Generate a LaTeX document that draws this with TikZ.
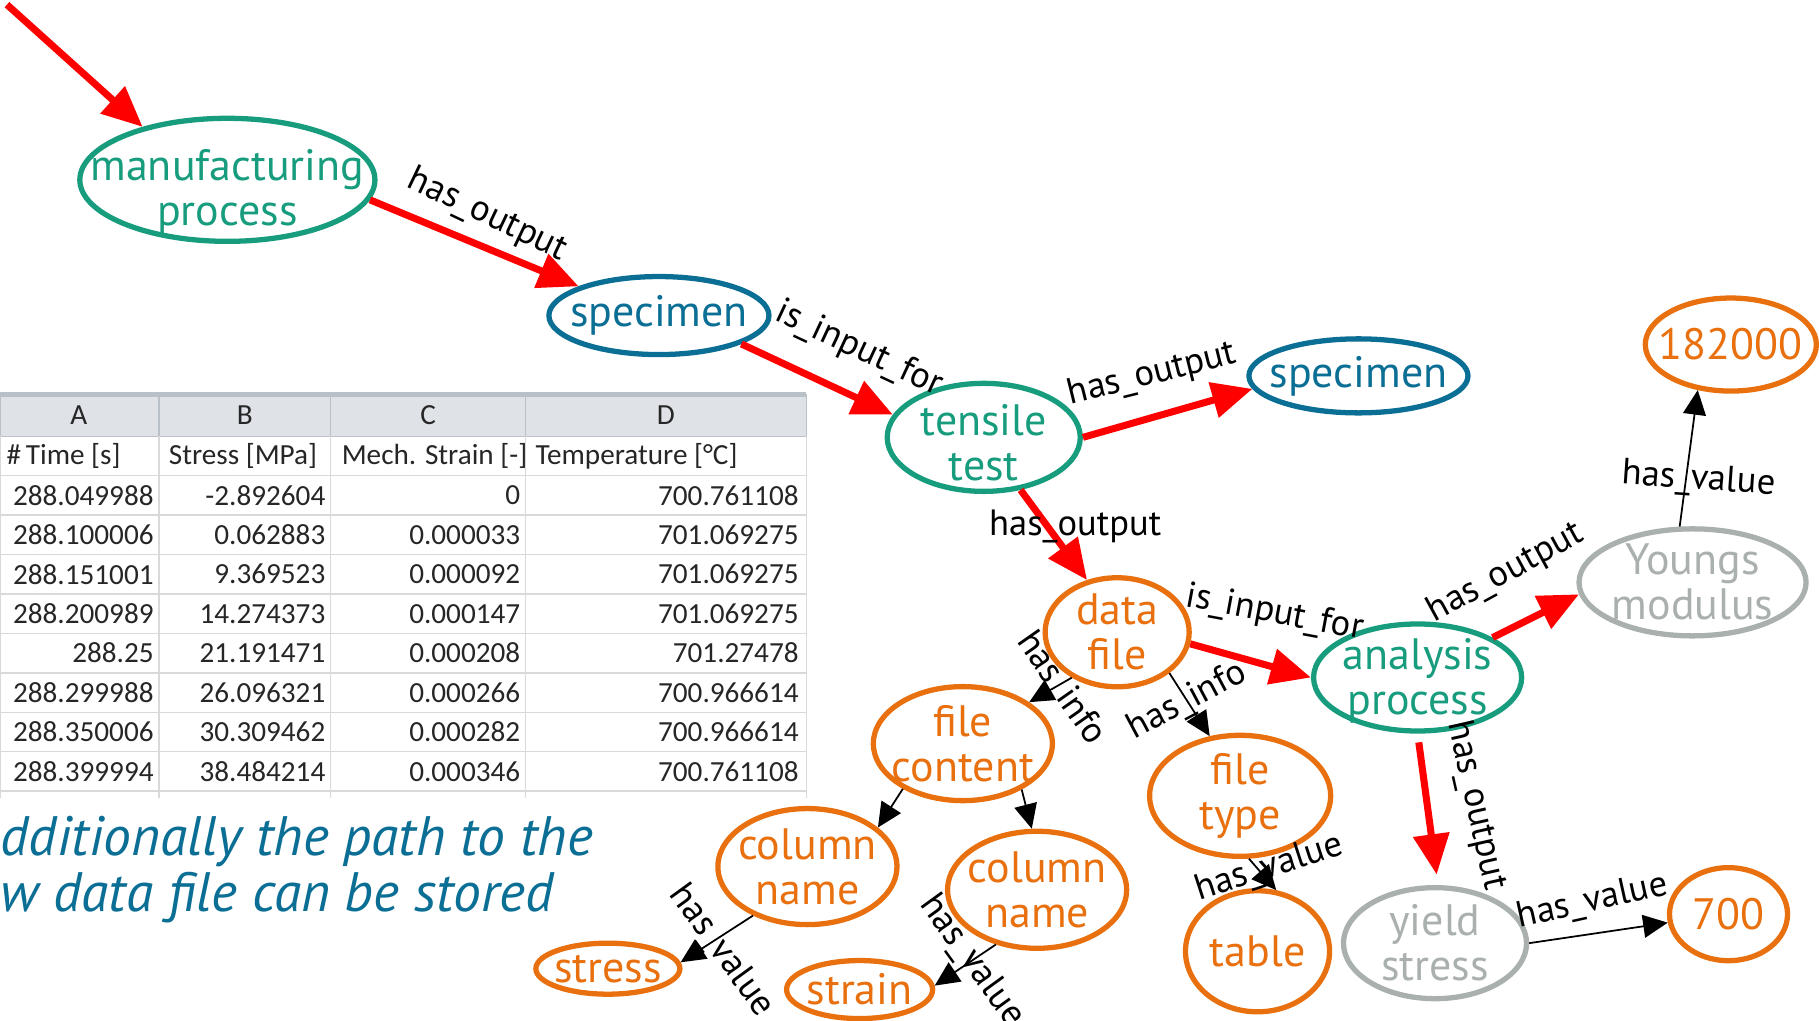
\documentclass[tikz,border=0pt]{standalone}
\usepackage{fontspec}
\setmainfont{PT Sans}
\newfontfamily\tabfont{Carlito}
\usepackage{tikz}
\usetikzlibrary{arrows.meta, shapes.geometric}

\definecolor{fgreen}{HTML}{179C7D}
\definecolor{fblue}{HTML}{0B6E94}
\definecolor{forange}{HTML}{E9700E}
\definecolor{fgray}{HTML}{A9B0AE}
\definecolor{hdrfill}{HTML}{DFE3E8}
\definecolor{hdrline}{HTML}{B9C0C8}
\definecolor{gridline}{HTML}{D9D9D9}

% zero-width lines, so that the ellipse keeps its given size
\newcommand{\one}[1]{\makebox[0pt]{#1}}
\newcommand{\two}[3][0pt]{\makebox[0pt]{\raisebox{-#1}[\height][\depth]{#2}}\\
  \makebox[0pt]{\raisebox{-#1}[\height][\depth]{#3}}}

\begin{document}
\begin{tikzpicture}[
  x=0.011601cm, y=-0.011601cm,
  ent/.style={ellipse, line width=1.5pt, inner xsep=0pt, inner ysep=-5pt,
              align=center, font=\fontsize{12.5}{12.8}\selectfont},
  proc/.style={ent, draw=fgreen, text=fgreen},
  obj/.style={ent, draw=fblue, text=fblue},
  dat/.style={ent, draw=forange, text=forange},
  res/.style={ent, draw=fgray, text=fgray},
  rel/.style={draw=red, line width=2pt, -{Triangle[length=11.5pt, width=10pt]}},
  att/.style={draw=black, line width=0.5pt, -{Triangle[length=7pt, width=6.5pt]}},
  lbl/.style={font=\fontsize{10.4}{12}\selectfont, inner sep=1pt},
  cell/.style={font=\tabfont\fontsize{8.3}{10}\selectfont, inner sep=0pt, text=black!85},
  note/.style={font=\itshape\fontsize{15.8}{18}\selectfont, text=fblue, inner sep=0pt},
]
\clip (0,0) rectangle (1568,880);

% spreadsheet
\fill[hdrfill] (0,340) rectangle (695,376);
\draw[hdrline, line width=1.2pt] (0,340) -- (695,340);
\draw[hdrline] (0,376) -- (695,376);
\foreach \x in {0,137,285,453,695} {
  \draw[hdrline] (\x,340) -- (\x,376);
  \draw[gridline] (\x,376) -- (\x,688);
}
\foreach \y in {410,444,...,682}
  \draw[gridline] (0,\y) -- (695,\y);
\foreach \col/\cx in {A/68,B/211,C/369,D/574}
  \node[cell] (h\col) at (\cx,358) {\col};
\node[cell, anchor=west] (t1) at (5,393) {\#\,Time [s]};
\node[cell, anchor=west] (t2) at (145,393) {Stress [MPa]};
\node[cell, anchor=west] (t3) at (294,393) {Mech. Strain [-]};
\node[cell, anchor=west] (t4) at (461,393) {Temperature [°C]};
\foreach \ta/\tb/\tc/\td [count=\i] in {
  288.049988/-2.892604/0/700.761108,
  288.100006/0.062883/0.000033/701.069275,
  288.151001/9.369523/0.000092/701.069275,
  288.200989/14.274373/0.000147/701.069275,
  288.25/21.191471/0.000208/701.27478,
  288.299988/26.096321/0.000266/700.966614,
  288.350006/30.309462/0.000282/700.966614,
  288.399994/38.484214/0.000346/700.761108} {
  \node[cell, anchor=east] (a\i) at (133,{393+34*\i}) {\ta};
  \node[cell, anchor=east] (b\i) at (281,{393+34*\i}) {\tb};
  \node[cell, anchor=east] (c\i) at (449,{393+34*\i}) {\tc};
  \node[cell, anchor=east] (d\i) at (689,{393+34*\i}) {\td};
}

\node[note, anchor=west] (note1) at (0,725) {dditionally the path to the};
\node[note, anchor=west] (note2) at (0,774) {w data file can be stored};

% graph
\node[proc, minimum width=2.95cm, minimum height=1.23cm] (manu)     at (196,155)  {\two[3.5pt]{manufacturing}{process}};
\node[obj,  minimum width=2.20cm, minimum height=0.78cm] (spec1)    at (568,272)  {\one{specimen}};
\node[proc, minimum width=1.93cm, minimum height=1.08cm] (tensile)  at (848,377)  {\two[1.5pt]{tensile}{test}};
\node[obj,  minimum width=2.19cm, minimum height=0.74cm] (spec2)    at (1171,324) {\one{specimen}};
\node[dat,  minimum width=1.71cm, minimum height=0.93cm] (n182)     at (1492,297) {\one{182000}};
\node[res,  minimum width=2.27cm, minimum height=1.07cm] (youngs)   at (1459,502) {\two{Youngs}{modulus}};
\node[dat,  minimum width=1.44cm, minimum height=1.09cm] (datafile) at (963,545)  {\two{data}{file}};
\node[proc, minimum width=2.08cm, minimum height=1.07cm] (analysis) at (1222,584) {\two[1pt]{analysis}{process}};
\node[dat,  minimum width=1.79cm, minimum height=1.14cm] (content)  at (830,641)  {\two{file}{content}};
\node[dat,  minimum width=1.81cm, minimum height=1.21cm] (filetype) at (1069,686) {\two{file}{type}};
\node[dat,  minimum width=1.79cm, minimum height=1.16cm] (col1)     at (696,747)  {\two{column}{name}};
\node[dat,  minimum width=1.79cm, minimum height=1.17cm] (col2)     at (894,767)  {\two{column}{name}};
\node[dat,  minimum width=1.44cm, minimum height=0.51cm] (stress)   at (524,835)  {\one{stress}};
\node[dat,  minimum width=1.46cm, minimum height=0.58cm] (strain)   at (741,853)  {\one{strain}};
\node[dat,  minimum width=1.44cm, minimum height=1.21cm] (tab)      at (1084,820) {\one{table}};
\node[res,  minimum width=1.83cm, minimum height=1.11cm] (yield)    at (1237,813) {\two{yield}{stress}};
\node[dat,  minimum width=1.18cm, minimum height=0.93cm] (n700)     at (1490,788) {\one{700}};

\coordinate (entry) at (6,4);

% red relations
\draw[rel] (entry) -- (manu.148);
\draw[rel] (manu.-8) -- node[lbl, sloped, above=2pt, rotate=-3] {has\_output} (spec1.160);
\draw[rel] (spec1.-19) -- node[lbl, sloped, above=6pt, pos=0.65] {is\_input\_for} (tensile.166);
\draw[rel] (tensile.0) -- node[lbl, sloped, above=5pt, pos=0.47, rotate=-2] {has\_output} (spec2.187);
\draw[rel] (tensile.-55) -- node[lbl, pos=0.4, xshift=0.28cm] {has\_output} (datafile.120);
\draw[rel] (datafile.-9) -- node[lbl, sloped, above=8pt, pos=0.6, rotate=5] {is\_input\_for} (analysis.180);
\draw[rel] (analysis.28) -- node[lbl, sloped, above=8pt, pos=0.43, rotate=2] {has\_output} (youngs.186);
\draw[rel, shorten <=2.5pt, shorten >=3pt] (analysis.-90) -- node[lbl, sloped, above=7pt, pos=0.53, rotate=5] {has\_output} (yield.87);

% black attributes
\draw[att] (youngs.103) -- node[lbl, pos=0.34, xshift=0.13cm, rotate=-4] {has\_value} (n182.-126);
\draw[att] (datafile.-135) -- node[lbl, pos=0.45, xshift=0.08cm, rotate=-55] {has\_info} (content.32);
\draw[att] (datafile.-38) -- node[lbl, pos=0.45, rotate=28] {has\_info} (filetype.117);
\draw[att] (content.-143) -- (col1.29);
\draw[att] (content.-38) -- (col2.95);
\draw[att] (col1.-138) -- node[lbl, pos=0.54, xshift=0.07cm, yshift=-0.1cm, rotate=-54] {has\_value} (stress.5);
\draw[att] (col2.-127) -- node[lbl, pos=0.4, rotate=-54] {has\_value} (strain.3);
\draw[att] (filetype.-82) -- node[lbl, pos=0.31, xshift=0.12cm, rotate=18] {has\_value} (tab.73);
\draw[att] (yield.0) -- node[lbl, sloped, above=3pt, rotate=4] {has\_value} (n700.188);
\end{tikzpicture}
\end{document}
